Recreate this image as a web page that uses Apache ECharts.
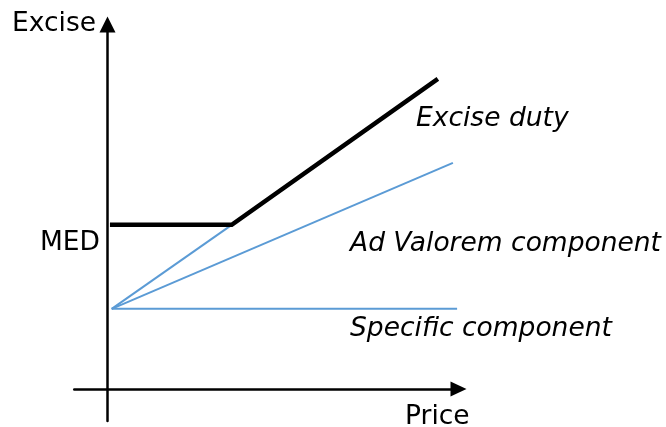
<!DOCTYPE html>
<html>
<head>
<meta charset="utf-8"/>
<script src="https://cdn.jsdelivr.net/npm/echarts@6/dist/echarts.min.js"></script>
<style>
 html,body{margin:0;padding:0;background:#fff;}
 #chart{width:666px;height:427px;}
</style>
</head>
<body>
<div id="chart"></div>
<script>
// values (price units / excise units)
var MED = 4.69;
var exciseDuty = [[0.07, MED], [3.55, MED], [9.44, 8.86]];
var adValoremKink = [[0.12, 2.29], [3.55, MED]];
var adValorem = [[0.12, 2.29], [9.87, 6.46]];
var specific = [[0.12, 2.29], [9.99, 2.29]];
var labels = ['Excise', 'Price', 'MED', 'Excise duty', 'Ad Valorem component', 'Specific component'];

var blue = '#5b9bd5';
var font = '"DejaVu Sans", Verdana, sans-serif';
var chart = echarts.init(document.getElementById('chart'));

function txt(s, x, y, italic){
  return {
    type: 'text', x: x, y: y,
    style: {text: s, fill: '#000', fontSize: 26.5, fontFamily: font,
      fontStyle: italic ? 'italic' : 'normal', verticalAlign: 'middle'}
  };
}

chart.setOption({
  animation: false,
  grid: {left: 74.25, right: 207.5, top: 24.5, bottom: 6},
  xAxis: {
    type: 'value', min: -0.95, max: 10.03,
    splitLine: {show: false}, axisTick: {show: false}, axisLabel: {show: false},
    axisLine: {onZero: true, symbol: ['none', 'triangle'], symbolSize: [15, 16],
      lineStyle: {color: '#000', width: 2.5}}
  },
  yAxis: {
    type: 'value', min: -0.914, max: 10.414,
    splitLine: {show: false}, axisTick: {show: false}, axisLabel: {show: false},
    axisLine: {onZero: true, symbol: ['none', 'triangle'], symbolSize: [16, 16],
      lineStyle: {color: '#000', width: 2.5}}
  },
  series: [
    {type: 'line', data: adValoremKink, symbol: 'none', lineStyle: {color: blue, width: 2}},
    {type: 'line', data: adValorem, symbol: 'none', lineStyle: {color: blue, width: 2}},
    {type: 'line', data: specific, symbol: 'none', lineStyle: {color: blue, width: 2}},
    {type: 'line', data: exciseDuty, symbol: 'none', lineStyle: {color: '#000', width: 4.5, join: 'miter'}}
  ],
  graphic: [
    txt(labels[0], 12, 24, false),
    txt(labels[1], 405, 417, false),
    txt(labels[2], 40, 243, false),
    txt(labels[3], 416, 119, true),
    txt(labels[4], 350, 244, true),
    txt(labels[5], 350, 329, true)
  ]
});
</script>
</body>
</html>
